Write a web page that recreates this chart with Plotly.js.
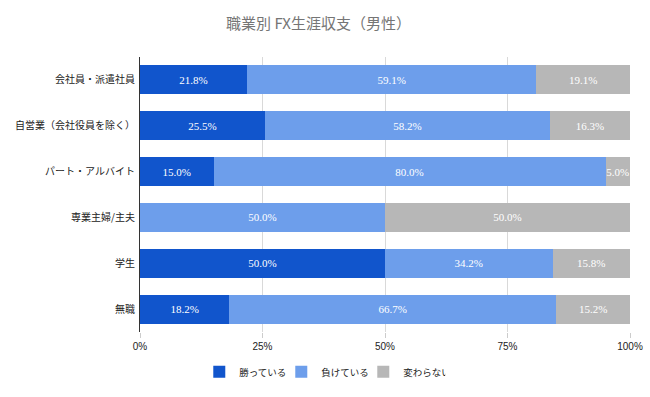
<!DOCTYPE html>
<html>
<head>
<meta charset="utf-8">
<script src="https://cdn.plot.ly/plotly-3.0.1.min.js"></script>
<style>html,body{margin:0;padding:0;background:#fff;}#chart{width:650px;height:397px;}</style>
</head>
<body>
<div id="chart"></div>
<script>
const categories = ['会社員・派遣社員', '自営業（会社役員を除く）', 'パート・アルバイト', '専業主婦/主夫', '学生', '無職'];
const seriesNames = ['勝っている', '負けている', '変わらない'];
const winning = [21.8, 25.5, 15.0, 0, 50.0, 18.2];
const losing = [59.1, 58.2, 80.0, 50.0, 34.2, 66.7];
const unchanged = [19.1, 16.3, 5.0, 50.0, 15.8, 15.2];
const colors = ['#1155cc', '#6d9eeb', '#b7b7b7'];
const xTickVals = [0, 25, 50, 75, 100];
const xTickText = ['0%', '25%', '50%', '75%', '100%'];

const labelFont = {family: 'Liberation Serif, serif', size: 11, color: '#ffffff'};
const seriesValues = [winning, losing, unchanged];
const data = seriesValues.map((vals, i) => ({
  type: 'bar',
  orientation: 'h',
  name: seriesNames[i],
  y: categories,
  x: vals,
  marker: {color: colors[i], line: {width: 0}},
  text: vals.map(v => v > 0 ? v.toFixed(1) + '%' : ''),
  textposition: 'inside',
  insidetextanchor: 'middle',
  constraintext: 'none',
  textangle: 0,
  textfont: labelFont,
  insidetextfont: labelFont,
  hoverinfo: 'none'
}));

const layout = {
  width: 650, height: 397,
  paper_bgcolor: '#ffffff', plot_bgcolor: '#ffffff',
  barmode: 'stack',
  bargap: 0.367,
  margin: {l: 140, r: 20, t: 57, b: 65, autoexpand: false},
  title: {
    text: '職業別 FX生涯収支（男性）',
    font: {family: 'Noto Sans CJK JP, sans-serif', size: 15, color: '#757575'},
    x: 0.49, xanchor: 'center', y: 0.94, yanchor: 'middle'
  },
  font: {family: 'Noto Sans CJK JP, sans-serif', size: 10, color: '#222222'},
  xaxis: {
    range: [0, 100],
    tickvals: xTickVals, ticktext: xTickText,
    showgrid: true, gridcolor: '#d9d9d9', gridwidth: 1,
    zeroline: false, showline: false,
    ticks: 'outside', ticklen: 5, tickcolor: '#cccccc',
    tickfont: {family: 'Liberation Sans, Arial, sans-serif', size: 10, color: '#222222'},
    fixedrange: true, automargin: false
  },
  yaxis: {
    autorange: 'reversed',
    showline: true, linecolor: '#333333', linewidth: 1,
    ticks: '', ticklabelstandoff: 2,
    tickfont: {family: 'Noto Sans CJK JP, sans-serif', size: 10, color: '#222222'},
    showgrid: false, fixedrange: true, automargin: false
  },
  showlegend: true,
  legend: {
    orientation: 'h', x: 0.372, xanchor: 'center',
    yref: 'container', y: 0.1, yanchor: 'top',
    entrywidth: 37, entrywidthmode: 'pixels',
    font: {family: 'Noto Sans CJK JP, sans-serif', size: 9.5, color: '#222222'},
    traceorder: 'normal', itemclick: false
  }
};

Plotly.newPlot('chart', data, layout, {displayModeBar: false, staticPlot: true});
</script>
</body>
</html>
